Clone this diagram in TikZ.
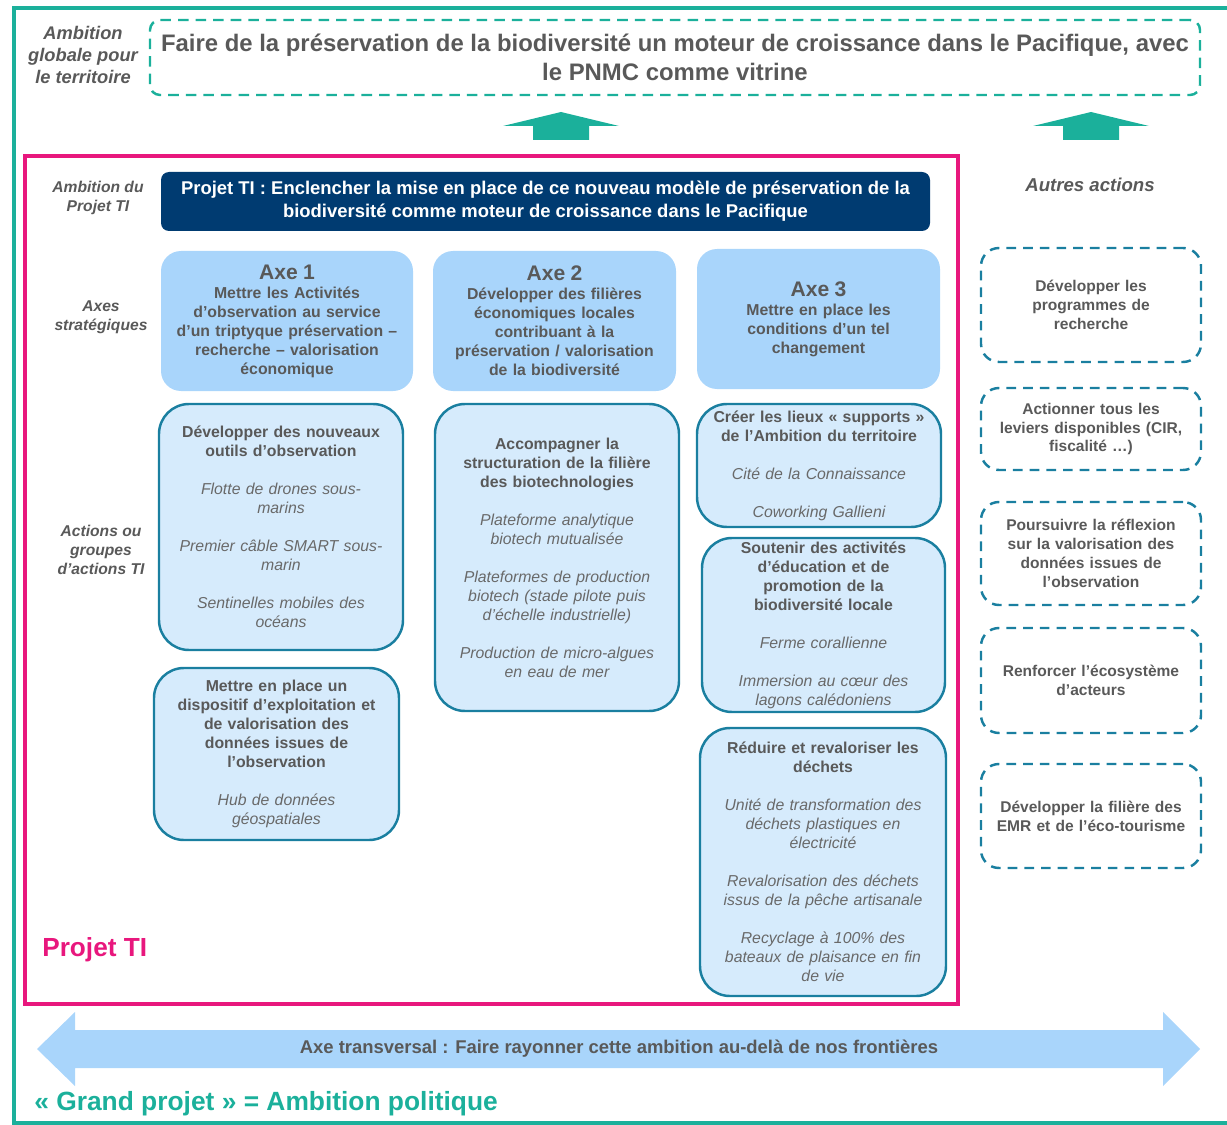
\documentclass[tikz,border=0pt]{standalone}
\usepackage{fontspec}
\setmainfont{Liberation Sans}
\definecolor{grandTeal}{RGB}{27,176,155}
\definecolor{projetPink}{RGB}{232,23,125}
\definecolor{ambitionNavy}{RGB}{0,59,113}
\definecolor{axeFill}{RGB}{169,213,251}
\definecolor{actionFill}{RGB}{214,235,252}
\definecolor{actionLine}{RGB}{26,127,160}
\definecolor{textGrey}{RGB}{89,89,89}
\definecolor{itemGrey}{RGB}{105,105,105}
\newcommand\pxu{0.02cm}
\newcommand\boxFont{\fontsize{9}{10.8}\selectfont\bfseries}
\newcommand\itemFont{\mdseries\itshape\color{itemGrey}}
\newcommand\axeTitle[1]{{\fontsize{12}{13.5}\selectfont #1}}
\newcommand\gap{\\[10.8pt]}
\tikzset{
	grandframe/.style={draw=grandTeal, line width=2.2pt},
	projetframe/.style={draw=projetPink, line width=2.3pt},
	ambitionbox/.style={draw=grandTeal, line width=1.4pt, dash pattern=on 6pt off 4pt,
		rounded corners=0.2cm, align=center, inner sep=0pt, text=textGrey,
		font=\fontsize{13.6}{16.5}\selectfont\bfseries},
	navybox/.style={fill=ambitionNavy, rounded corners=0.16cm, align=center, inner sep=0pt,
		text=white, font=\fontsize{10.5}{13}\selectfont\bfseries},
	axebox/.style={fill=axeFill, rounded corners=0.4cm, align=center, inner sep=0pt,
		text=textGrey, text width=240*\pxu, font=\fontsize{9}{10.8}\selectfont\bfseries},
	actionbox/.style={draw=actionLine, fill=actionFill, line width=1.4pt, rounded corners=0.6cm,
		align=center, inner sep=0pt, text=textGrey, text width=236*\pxu, font=\boxFont},
	autrebox/.style={draw=actionLine, line width=1.4pt, dash pattern=on 5.5pt off 4pt,
		rounded corners=0.36cm, align=center, inner sep=0pt, text=textGrey,
		minimum width=220*\pxu, text width=214*\pxu, font=\fontsize{8.85}{10.8}\selectfont\bfseries},
	sidelabel/.style={align=center, inner sep=0pt, text=textGrey,
		font=\fontsize{8.9}{10.8}\selectfont\bfseries\itshape}
}

\begin{document}
\begin{tikzpicture}[x=\pxu, y=-\pxu]
	\useasboundingbox (0,0) rectangle (1227,1125);
	
	% grand projet
	\draw[grandframe] (1260,8) -- (14,8) -- (14,1123) -- (1260,1123);
	\node[sidelabel, font=\fontsize{10.4}{12.5}\selectfont\bfseries\itshape] (ambitionLabel) at (83,55)
		{Ambition\\globale pour\\le territoire};
	\node[ambitionbox, minimum width=1050*\pxu, minimum height=75*\pxu] (ambition) at (675,57.5)
		{Faire de la préservation de la biodiversité un moteur de croissance dans le Pacifique, avec\\le PNMC comme vitrine};
	\foreach \ax in {561,1091}{
		\fill[grandTeal] (\ax-58,126) -- (\ax,112) -- (\ax+58,126) -- (\ax+28,126)
			-- (\ax+28,140) -- (\ax-28,140) -- (\ax-28,126) -- cycle;
	}
	
	% projet TI
	\draw[projetframe] (25,156) rectangle (958,1004);
	\node[sidelabel] (projetLabel) at (98,198) {Ambition du\\Projet TI};
	\node[navybox, minimum width=769*\pxu, minimum height=59*\pxu] (projet) at (545.5,201.5)
		{Projet TI : Enclencher la mise en place de ce nouveau modèle de préservation de la\\biodiversité comme moteur de croissance dans le Pacifique};
	
	\node[sidelabel] (axesLabel) at (101,317) {Axes\\stratégiques};
	\node[axebox, minimum width=252*\pxu, minimum height=140*\pxu] (axe1) at (287,321)
		{\axeTitle{Axe 1}\\Mettre les Activités\\d’observation au service\\d’un triptyque préservation –\\recherche – valorisation\\économique};
	\node[axebox, minimum width=243*\pxu, minimum height=140*\pxu] (axe2) at (554.5,321)
		{\axeTitle{Axe 2}\\Développer des filières\\économiques locales\\contribuant à la\\préservation / valorisation\\de la biodiversité};
	\node[axebox, minimum width=243*\pxu, minimum height=140*\pxu] (axe3) at (818.5,319)
		{\axeTitle{Axe 3}\\Mettre en place les\\conditions d’un tel\\changement};
	
	\node[sidelabel] (actionsLabel) at (101,550) {Actions ou\\groupes\\d’actions TI};
	\node[actionbox, minimum width=244*\pxu, minimum height=246*\pxu] (observation) at (281,527)
		{Développer des nouveaux\\outils d’observation\gap
		\itemFont Flotte de drones sous-\\marins\gap
		Premier câble SMART sous-\\marin\gap
		Sentinelles mobiles des\\océans};
	\node[actionbox, minimum width=245*\pxu, minimum height=172*\pxu] (donnees) at (276.5,754)
		{Mettre en place un\\dispositif d’exploitation et\\de valorisation des\\données issues de\\l’observation\gap
		\itemFont Hub de données\\géospatiales};
	\node[actionbox, minimum width=244*\pxu, minimum height=307*\pxu] (biotech) at (557,557.5)
		{Accompagner la\\structuration de la filière\\des biotechnologies\gap
		\itemFont Plateforme analytique\\biotech mutualisée\gap
		Plateformes de production\\biotech (stade pilote puis\\d’échelle industrielle)\gap
		Production de micro-algues\\en eau de mer};
	\node[actionbox, minimum width=244*\pxu, minimum height=123*\pxu] (lieux) at (819,465.5)
		{Créer les lieux « supports »\\de l’Ambition du territoire\gap
		\itemFont Cité de la Connaissance\gap
		Coworking Gallieni};
	\node[actionbox, minimum width=243*\pxu, minimum height=174*\pxu] (education) at (823.5,625)
		{Soutenir des activités\\d’éducation et de\\promotion de la\\biodiversité locale\gap
		\itemFont Ferme corallienne\gap
		Immersion au cœur des\\lagons calédoniens};
	\node[actionbox, minimum width=246*\pxu, minimum height=268*\pxu] (dechets) at (823,862)
		{Réduire et revaloriser les\\déchets\gap
		\itemFont Unité de transformation des\\déchets plastiques en\\électricité\gap
		Revalorisation des déchets\\issus de la pêche artisanale\gap
		Recyclage à 100\% des\\bateaux de plaisance en fin\\de vie};
	
	\node[text=projetPink, font=\fontsize{14.9}{17}\selectfont\bfseries, anchor=west, inner sep=0pt]
		(projetTitle) at (42,950) {Projet TI};
	
	% autres actions
	\node[sidelabel, font=\fontsize{10.6}{12}\selectfont\bfseries\itshape] (autresLabel) at (1090,185) {Autres actions};
	\node[autrebox, minimum height=114*\pxu] (recherche) at (1091,305)
		{Développer les\\programmes de\\recherche};
	\node[autrebox, minimum height=82*\pxu] (leviers) at (1091,429)
		{Actionner tous les\\leviers disponibles (CIR,\\fiscalité …)};
	\node[autrebox, minimum height=103*\pxu] (reflexion) at (1091,553.5)
		{Poursuivre la réflexion\\sur la valorisation des\\données issues de\\l’observation};
	\node[autrebox, minimum height=105*\pxu] (ecosysteme) at (1091,680.5)
		{Renforcer l’écosystème\\d’acteurs};
	\node[autrebox, minimum height=104*\pxu] (emr) at (1091,816)
		{Développer la filière des\\EMR et de l’éco-tourisme};
	
	% axe transversal
	\fill[axeFill] (37,1049) -- (75,1012) -- (75,1030) -- (1163,1030) -- (1163,1012) -- (1200,1049)
		-- (1163,1086) -- (1163,1068) -- (75,1068) -- (75,1086) -- cycle;
	\node[text=textGrey, font=\fontsize{10.5}{12}\selectfont\bfseries, inner sep=0pt] (transversal) at (619,1049)
		{Axe transversal : Faire rayonner cette ambition au-delà de nos frontières};
	
	\node[text=grandTeal, font=\fontsize{15}{17}\selectfont\bfseries, anchor=west, inner sep=0pt]
		(grandTitle) at (34,1104) {« Grand projet » = Ambition politique};
\end{tikzpicture}
\end{document}
